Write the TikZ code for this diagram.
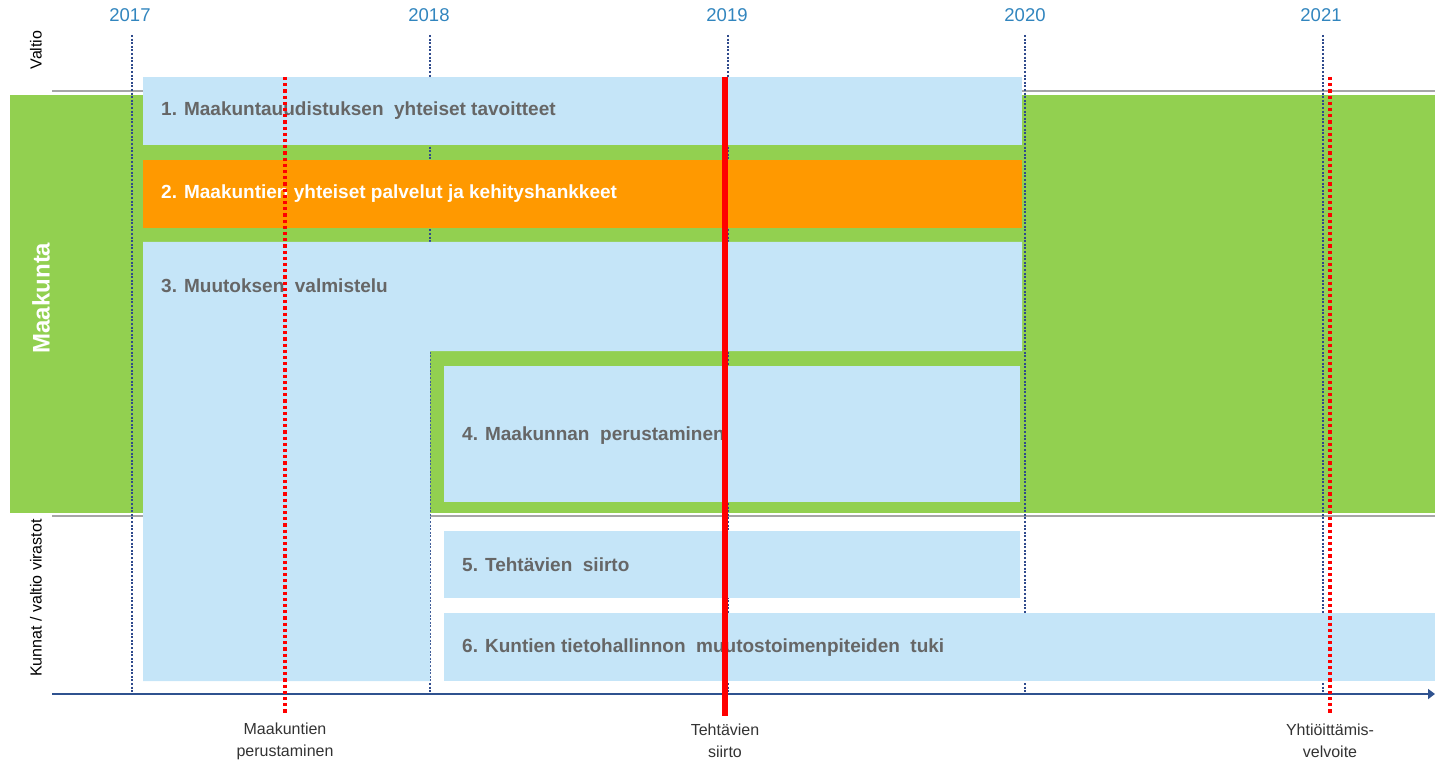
\documentclass[tikz,border=0pt]{standalone}
\usepackage{fontspec}
\setmainfont{Liberation Sans}
\usetikzlibrary{arrows.meta}
\definecolor{lblue}{RGB}{197,229,248}
\definecolor{lgreen}{RGB}{146,208,80}
\definecolor{orng}{RGB}{255,153,0}
\definecolor{txtgray}{RGB}{102,102,102}
\definecolor{yearblue}{RGB}{49,133,190}
\definecolor{navy}{RGB}{47,74,140}
\definecolor{axisblue}{RGB}{47,82,143}
\definecolor{sepgray}{RGB}{166,166,166}
\definecolor{lbltxt}{RGB}{51,51,51}
\tikzset{
  boxtxt/.style={anchor=west,inner sep=0pt,text=txtgray,font=\fontsize{19}{22}\selectfont\bfseries},
  yearlbl/.style={inner sep=0pt,text=yearblue,font=\fontsize{18.5}{22}\selectfont},
  yearline/.style={navy,line width=2pt,dash pattern=on 2pt off 1.6pt},
  reddot/.style={red,line width=3.5pt,dash pattern=on 3.2pt off 3pt},
  sepline/.style={sepgray,line width=2pt},
  evlbl/.style={inner sep=0pt,align=center,text=lbltxt,font=\fontsize{16}{22}\selectfont},
  sidelbl/.style={inner sep=0pt,rotate=90,font=\fontsize{16}{20}\selectfont}
}
\begin{document}
\begin{tikzpicture}[x=1pt,y=-1pt]
\useasboundingbox (0,0) rectangle (1435,762);
% separators and green band
\draw[sepline] (52,91) -- (1435,91);
\fill[lgreen] (10,95) rectangle (1435,513);
\draw[sepline] (430,516) -- (1435,516);
\draw[sepline] (52,516) -- (143,516);
% year lines and labels
\foreach \x in {132,430,728,1025,1323}{
  \draw[yearline] (\x,35) -- (\x,694);
}
\node[yearlbl] (y17) at (130,15) {2017};
\node[yearlbl] (y18) at (429,15) {2018};
\node[yearlbl] (y19) at (727,15) {2019};
\node[yearlbl] (y20) at (1025,15) {2020};
\node[yearlbl] (y21) at (1321,15) {2021};
% boxes
\fill[lblue] (143,77) rectangle (1022,145);
\fill[orng] (143,160) rectangle (1022,228);
\fill[lblue] (143,242) -- (1022,242) -- (1022,351) -- (430,351) -- (430,681) -- (143,681) -- cycle;
\fill[lblue] (444,366) rectangle (1020,502);
\fill[lblue] (444,531) rectangle (1020,598);
\fill[lblue] (444,613) rectangle (1435,681);
\node[boxtxt] (b1) at (161,111) {1. Maakuntauudistuksen\ \ yhteiset tavoitteet};
\node[boxtxt,text=white] (b2) at (161,194) {2. Maakuntien yhteiset palvelut ja kehityshankkeet};
\node[boxtxt] (b3) at (161,286) {3. Muutoksen\ \ valmistelu};
\node[boxtxt] (b4) at (462,436) {4. Maakunnan\ \ perustaminen};
\node[boxtxt] (b5) at (462,565) {5. Tehtävien\ \ siirto};
\node[boxtxt] (b6) at (462,648) {6. Kuntien tietohallinnon\ \ muutostoimenpiteiden\ \ tuki};
% axis
\draw[axisblue,line width=2pt,-{Triangle[length=7pt,width=10pt]}] (52,694) -- (1435,694);
% events
\draw[reddot] (285,77) -- (285,715);
\draw[reddot] (1330,77) -- (1330,715);
\draw[red,line width=5.5pt] (725,77) -- (725,716);
\node[evlbl] (e1) at (285,741) {Maakuntien\\perustaminen};
\node[evlbl] (e2) at (725,741) {Tehtävien\\siirto};
\node[evlbl] (e3) at (1330,741) {Yhtiöittämis-\\velvoite};
% side labels
\node[sidelbl] (s1) at (36,50) {Valtio};
\node[sidelbl,text=white,font=\fontsize{24}{28}\selectfont\bfseries] (s2) at (41,298) {Maakunta};
\node[sidelbl] (s3) at (36,598) {Kunnat / valtio virastot};
\end{tikzpicture}
\end{document}
